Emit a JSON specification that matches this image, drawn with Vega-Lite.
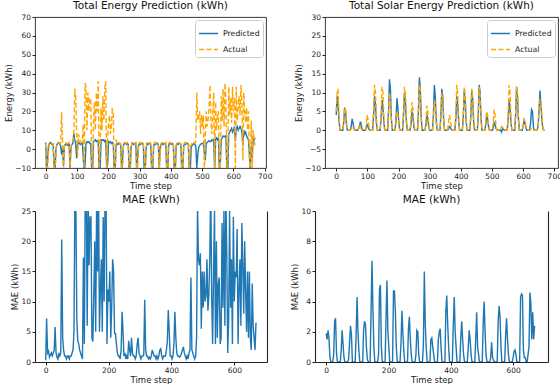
{
"$schema": "https://vega.github.io/schema/vega-lite/v6.json",
"background": "white",
"padding": {"left": 4, "top": 0, "right": 6, "bottom": 0},
"config": {
 "font": "DejaVu Sans",
 "view": {"stroke": "#222", "strokeWidth": 0.9},
 "axis": {"grid": false, "domain": false, "labelFlush": false, "labelFont": "DejaVu Sans", "labelFontSize": 7.5, "labelColor": "#222", "titleFont": "DejaVu Sans", "titleFontSize": 8.5, "titleFontWeight": "normal", "titleColor": "#222", "tickColor": "#222", "tickSize": 3, "labelPadding": 1.5, "titlePadding": 1, "domainColor": "#222", "domainWidth": 1.1},
 "title": {"font": "DejaVu Sans", "fontSize": 10.5, "fontWeight": "normal", "color": "#111", "offset": 2, "frame": "group"},
 "legend": {"orient": "top-right", "offset": 3, "padding": 3, "strokeColor": "#ccc", "fillColor": "white", "cornerRadius": 3, "labelFont": "DejaVu Sans", "labelFontSize": 7.8, "labelColor": "#222", "symbolType": "stroke", "symbolSize": 360, "symbolStrokeWidth": 1.4, "rowPadding": 1, "labelOffset": 4, "title": null}
},
"datasets": {"d": [
{"t":0,"p":3.5,"a":3,"sp":4,"sa":5,"m":0.3,"sm":1.9},
{"t":3,"p":-11,"a":-12,"sp":9,"sa":10,"m":7.2,"sm":1.5},
{"t":6,"p":-6,"a":-12,"sp":7,"sa":11,"m":1.5,"sm":2.1},
{"t":9,"p":1.5,"a":-1,"sp":2.5,"sa":4,"m":1.8,"sm":1.5},
{"t":12,"p":3,"a":3,"sp":0,"sa":0.3,"m":0.8,"sm":0.3},
{"t":15,"p":3.5,"a":3.5,"sp":0,"sa":0,"m":1.2,"sm":0},
{"t":18,"p":3,"a":3.5,"sp":0,"sa":0,"m":1.5,"sm":0},
{"t":21,"p":2.5,"a":3,"sp":0,"sa":0,"m":1,"sm":0},
{"t":24,"p":2,"a":3,"sp":2,"sa":2.5,"m":1.5,"sm":0.5},
{"t":27,"p":-8,"a":-10,"sp":6,"sa":6,"m":2,"sm":2.7},
{"t":30,"p":-11,"a":-12,"sp":5,"sa":5.5,"m":5.8,"sm":2.9},
{"t":33,"p":0,"a":-2,"sp":1.5,"sa":2,"m":1.5,"sm":0.6},
{"t":36,"p":2.5,"a":3,"sp":0,"sa":0,"m":0.8,"sm":0},
{"t":39,"p":3,"a":3.5,"sp":0,"sa":0,"m":0.5,"sm":0},
{"t":42,"p":3.5,"a":3.5,"sp":0,"sa":0,"m":1.5,"sm":0},
{"t":45,"p":3,"a":3,"sp":0,"sa":0,"m":1,"sm":0},
{"t":48,"p":1.5,"a":3,"sp":1,"sa":0.3,"m":1.5,"sm":0.7},
{"t":51,"p":-3,"a":19.5,"sp":3,"sa":1,"m":20.3,"sm":2.1},
{"t":54,"p":1,"a":4,"sp":2,"sa":0.8,"m":4,"sm":1.2},
{"t":57,"p":-9,"a":-11,"sp":0.5,"sa":0.2,"m":2,"sm":0.3},
{"t":60,"p":2,"a":1,"sp":0,"sa":0,"m":1,"sm":0},
{"t":63,"p":2.5,"a":3.5,"sp":0,"sa":0,"m":1,"sm":0},
{"t":66,"p":3,"a":3,"sp":0,"sa":0,"m":0.5,"sm":0},
{"t":69,"p":2,"a":3,"sp":0,"sa":0,"m":1,"sm":0},
{"t":72,"p":2,"a":3,"sp":0.5,"sa":0.3,"m":1,"sm":0.2},
{"t":75,"p":3,"a":3.5,"sp":1.3,"sa":1.5,"m":0.5,"sm":1.3},
{"t":78,"p":-10,"a":-11,"sp":2.3,"sa":0.8,"m":1,"sm":2.4},
{"t":81,"p":1,"a":2,"sp":1.2,"sa":0.3,"m":1,"sm":1.8},
{"t":84,"p":2.5,"a":3,"sp":0,"sa":0,"m":1.5,"sm":0},
{"t":87,"p":3,"a":4,"sp":0,"sa":0,"m":2,"sm":0},
{"t":90,"p":8.5,"a":6,"sp":0,"sa":0,"m":5,"sm":0},
{"t":93,"p":5,"a":32,"sp":0,"sa":0,"m":28,"sm":0},
{"t":96,"p":3,"a":28,"sp":0.5,"sa":1,"m":26,"sm":1.8},
{"t":99,"p":-5,"a":10,"sp":1.5,"sa":4,"m":7.2,"sm":4.3},
{"t":102,"p":2,"a":-4,"sp":1,"sa":3,"m":3.5,"sm":2},
{"t":105,"p":4,"a":8,"sp":0.3,"sa":1,"m":3,"sm":0.7},
{"t":108,"p":3,"a":5.5,"sp":0,"sa":0,"m":2,"sm":0},
{"t":111,"p":2.5,"a":4,"sp":0,"sa":0,"m":1.5,"sm":0},
{"t":114,"p":3,"a":3.5,"sp":0,"sa":0,"m":1,"sm":0},
{"t":117,"p":3.5,"a":3.5,"sp":0,"sa":0,"m":0.5,"sm":0},
{"t":120,"p":-4,"a":13,"sp":4,"sa":5,"m":17.3,"sm":2.1},
{"t":123,"p":-12,"a":-12,"sp":9,"sa":12,"m":3,"sm":2.7},
{"t":126,"p":-8,"a":35,"sp":7,"sa":10,"m":30,"sm":2.5},
{"t":129,"p":3,"a":33,"sp":2,"sa":3,"m":30,"sm":1},
{"t":132,"p":4,"a":10,"sp":0,"sa":0.2,"m":6,"sm":0.2},
{"t":135,"p":3.5,"a":30,"sp":0,"sa":0,"m":27,"sm":0},
{"t":138,"p":4,"a":20,"sp":0,"sa":0,"m":16,"sm":0},
{"t":141,"p":3,"a":27,"sp":0,"sa":0,"m":24,"sm":0},
{"t":144,"p":3,"a":27,"sp":3,"sa":4,"m":24,"sm":3.4},
{"t":147,"p":-10,"a":-6,"sp":8,"sa":11.5,"m":4,"sm":6.7},
{"t":150,"p":-12,"a":-12,"sp":6.5,"sa":10,"m":3.4,"sm":3.5},
{"t":153,"p":4,"a":15,"sp":2,"sa":3,"m":11,"sm":1},
{"t":156,"p":4.5,"a":25,"sp":0,"sa":0,"m":20,"sm":0},
{"t":159,"p":5,"a":10,"sp":0,"sa":0,"m":5,"sm":0},
{"t":162,"p":4,"a":30,"sp":0,"sa":0,"m":26,"sm":0},
{"t":165,"p":4.5,"a":20,"sp":0,"sa":0,"m":15,"sm":0},
{"t":168,"p":4,"a":36,"sp":5,"sa":5,"m":30,"sm":0.5},
{"t":171,"p":-12,"a":-12,"sp":13.5,"sa":10,"m":5,"sm":4.8},
{"t":174,"p":-12,"a":0,"sp":11,"sa":8,"m":12,"sm":5.1},
{"t":177,"p":5,"a":22,"sp":3,"sa":3,"m":17,"sm":1},
{"t":180,"p":5,"a":10,"sp":0,"sa":0,"m":5,"sm":0},
{"t":183,"p":4.5,"a":28,"sp":0,"sa":0,"m":24,"sm":0},
{"t":186,"p":5,"a":15,"sp":0,"sa":0,"m":10,"sm":0},
{"t":189,"p":4,"a":33,"sp":0,"sa":0,"m":28,"sm":0},
{"t":192,"p":5,"a":36,"sp":3,"sa":2,"m":28,"sm":2.9},
{"t":195,"p":-10,"a":-12,"sp":8.5,"sa":5,"m":3,"sm":5.4},
{"t":198,"p":-8,"a":5,"sp":6,"sa":4,"m":12,"sm":2},
{"t":201,"p":4,"a":14,"sp":2,"sa":1,"m":10,"sm":1},
{"t":204,"p":3.5,"a":18,"sp":0,"sa":0,"m":15,"sm":0},
{"t":207,"p":4,"a":8,"sp":0,"sa":0,"m":4,"sm":0},
{"t":210,"p":3,"a":12,"sp":0,"sa":0,"m":9,"sm":0},
{"t":213,"p":3.5,"a":21,"sp":0,"sa":0,"m":17,"sm":0},
{"t":216,"p":3,"a":20,"sp":4,"sa":4,"m":15,"sm":4.7},
{"t":219,"p":-12,"a":-12,"sp":10,"sa":11.5,"m":4.7,"sm":4.7},
{"t":222,"p":-12,"a":-12,"sp":8,"sa":10,"m":4.7,"sm":3.4},
{"t":225,"p":2,"a":5,"sp":2.5,"sa":3.5,"m":3,"sm":1},
{"t":228,"p":3,"a":3.5,"sp":0,"sa":0,"m":1.5,"sm":0},
{"t":231,"p":2.5,"a":3,"sp":0,"sa":0,"m":1,"sm":0},
{"t":234,"p":3,"a":3.5,"sp":0,"sa":0,"m":1,"sm":0},
{"t":237,"p":3,"a":3,"sp":0,"sa":0,"m":0.5,"sm":0},
{"t":240,"p":2,"a":3,"sp":1.5,"sa":2.5,"m":2,"sm":1.2},
{"t":243,"p":-12,"a":-12,"sp":5,"sa":7.5,"m":8.3,"sm":3.4},
{"t":246,"p":-5,"a":-10,"sp":4,"sa":6,"m":5,"sm":2},
{"t":249,"p":2.5,"a":3,"sp":1,"sa":2,"m":1,"sm":0.8},
{"t":252,"p":3,"a":3.5,"sp":0,"sa":0,"m":1.5,"sm":0},
{"t":255,"p":3,"a":3.5,"sp":0,"sa":0,"m":0.5,"sm":0},
{"t":258,"p":2.5,"a":3,"sp":0,"sa":0,"m":1,"sm":0},
{"t":261,"p":3,"a":3.5,"sp":0,"sa":0,"m":0.5,"sm":0},
{"t":264,"p":2.5,"a":3,"sp":5,"sa":4.5,"m":3.5,"sm":2.2},
{"t":267,"p":-12,"a":-12,"sp":14,"sa":12,"m":2,"sm":3},
{"t":270,"p":-12,"a":-12,"sp":11,"sa":11,"m":1,"sm":1.5},
{"t":273,"p":1,"a":0,"sp":3,"sa":3.5,"m":4,"sm":0.5},
{"t":276,"p":3,"a":3.5,"sp":0,"sa":0,"m":1.5,"sm":0},
{"t":279,"p":3,"a":3,"sp":0,"sa":0,"m":1,"sm":0},
{"t":282,"p":2.5,"a":3.5,"sp":0,"sa":0,"m":1,"sm":0},
{"t":285,"p":3,"a":3,"sp":0,"sa":0,"m":0.5,"sm":0},
{"t":288,"p":3,"a":3.5,"sp":1.5,"sa":2,"m":1,"sm":0.5},
{"t":291,"p":-12,"a":-12,"sp":4,"sa":6.5,"m":3,"sm":2.1},
{"t":294,"p":-3,"a":-11,"sp":3,"sa":5,"m":4,"sm":2},
{"t":297,"p":2,"a":3,"sp":1,"sa":1.5,"m":1.5,"sm":0.5},
{"t":300,"p":3,"a":3.5,"sp":0,"sa":0,"m":1,"sm":0},
{"t":303,"p":2.5,"a":3,"sp":0,"sa":0,"m":0.5,"sm":0},
{"t":306,"p":3,"a":3.5,"sp":0,"sa":0,"m":1,"sm":0},
{"t":309,"p":3,"a":3,"sp":0,"sa":0,"m":1,"sm":0},
{"t":312,"p":2.5,"a":3.5,"sp":4,"sa":3,"m":1.2,"sm":1.2},
{"t":315,"p":-12,"a":-4,"sp":12,"sa":8,"m":10.3,"sm":6},
{"t":318,"p":-12,"a":-12,"sp":9,"sa":7,"m":2,"sm":2.5},
{"t":321,"p":0,"a":1,"sp":3,"sa":2,"m":1,"sm":1},
{"t":324,"p":3,"a":3.5,"sp":0,"sa":0,"m":1,"sm":0},
{"t":327,"p":2.5,"a":3,"sp":0,"sa":0,"m":0.5,"sm":0},
{"t":330,"p":3,"a":3,"sp":0,"sa":0,"m":0.8,"sm":0},
{"t":333,"p":3,"a":3.5,"sp":0,"sa":0,"m":0.5,"sm":0},
{"t":336,"p":2,"a":3,"sp":4,"sa":3.5,"m":1,"sm":1.5},
{"t":339,"p":-12,"a":-12,"sp":11,"sa":10,"m":2,"sm":1.6},
{"t":342,"p":-12,"a":-12,"sp":9,"sa":9,"m":1.5,"sm":1},
{"t":345,"p":1.5,"a":2,"sp":2.5,"sa":3,"m":1,"sm":0.5},
{"t":348,"p":3,"a":3.5,"sp":0,"sa":0,"m":1,"sm":0},
{"t":351,"p":2.5,"a":3,"sp":0,"sa":0,"m":0.5,"sm":0},
{"t":354,"p":3,"a":3.5,"sp":0,"sa":0,"m":1,"sm":0},
{"t":357,"p":3,"a":3,"sp":0,"sa":0,"m":0.5,"sm":0},
{"t":360,"p":2.5,"a":3,"sp":0.3,"sa":1.5,"m":1,"sm":1.5},
{"t":363,"p":-10,"a":-12,"sp":1,"sa":4,"m":2,"sm":2},
{"t":366,"p":1,"a":-2,"sp":0.8,"sa":3,"m":2.2,"sm":2.2},
{"t":369,"p":2.5,"a":3,"sp":0.2,"sa":1,"m":1,"sm":0.8},
{"t":372,"p":3,"a":3.5,"sp":0,"sa":0,"m":0.5,"sm":0},
{"t":375,"p":2.5,"a":3,"sp":0,"sa":0,"m":1,"sm":0},
{"t":378,"p":3,"a":3.5,"sp":0,"sa":0,"m":1,"sm":0},
{"t":381,"p":3,"a":3,"sp":0,"sa":0,"m":1,"sm":0},
{"t":384,"p":2,"a":3.5,"sp":3,"sa":4,"m":2,"sm":3.4},
{"t":387,"p":-12,"a":-12,"sp":9,"sa":12,"m":3.4,"sm":4.4},
{"t":390,"p":-12,"a":-12,"sp":7,"sa":10,"m":8.6,"sm":2.5},
{"t":393,"p":2,"a":3,"sp":2.5,"sa":3,"m":5,"sm":1},
{"t":396,"p":3,"a":3.5,"sp":0,"sa":0,"m":1,"sm":0},
{"t":399,"p":3,"a":3.5,"sp":0,"sa":0,"m":1,"sm":0},
{"t":402,"p":2.5,"a":3,"sp":0,"sa":0,"m":0.5,"sm":0},
{"t":405,"p":3,"a":3.5,"sp":0,"sa":0,"m":1,"sm":0},
{"t":408,"p":2.5,"a":3,"sp":3.5,"sa":4,"m":3,"sm":2.5},
{"t":411,"p":-12,"a":-12,"sp":10.5,"sa":11.5,"m":8.3,"sm":4.3},
{"t":414,"p":-12,"a":-12,"sp":8,"sa":9.5,"m":4,"sm":2},
{"t":417,"p":1.5,"a":2,"sp":2.5,"sa":3,"m":1.5,"sm":1},
{"t":420,"p":3,"a":3.5,"sp":0,"sa":0,"m":1,"sm":0},
{"t":423,"p":2.5,"a":3,"sp":0,"sa":0,"m":1,"sm":0},
{"t":426,"p":3,"a":3.5,"sp":0,"sa":0,"m":0.8,"sm":0},
{"t":429,"p":3,"a":3,"sp":0,"sa":0,"m":1,"sm":0},
{"t":432,"p":2.5,"a":3,"sp":3.5,"sa":4,"m":1.5,"sm":1.6},
{"t":435,"p":-12,"a":-12,"sp":10.5,"sa":11,"m":2,"sm":2.7},
{"t":438,"p":-12,"a":-12,"sp":8.5,"sa":9,"m":2.5,"sm":1.5},
{"t":441,"p":1.5,"a":2,"sp":2.5,"sa":3,"m":1.5,"sm":0.5},
{"t":444,"p":3,"a":3.5,"sp":0,"sa":0,"m":1,"sm":0},
{"t":447,"p":2.5,"a":3,"sp":0,"sa":0,"m":0.5,"sm":0},
{"t":450,"p":3,"a":3.5,"sp":0,"sa":0,"m":1,"sm":0},
{"t":453,"p":3,"a":3,"sp":0,"sa":0,"m":0.5,"sm":0},
{"t":456,"p":2.5,"a":3,"sp":4,"sa":4,"m":1.5,"sm":1},
{"t":459,"p":-12,"a":-12,"sp":12,"sa":11.5,"m":2,"sm":2.1},
{"t":462,"p":-12,"a":2,"sp":10,"sa":9.5,"m":14,"sm":1.5},
{"t":465,"p":1,"a":2,"sp":3,"sa":3,"m":2,"sm":0.5},
{"t":468,"p":2,"a":3.5,"sp":0,"sa":0,"m":1.5,"sm":0},
{"t":471,"p":2.5,"a":3,"sp":0,"sa":0,"m":1,"sm":0},
{"t":474,"p":3,"a":3.5,"sp":0,"sa":0,"m":0.5,"sm":0},
{"t":477,"p":2.5,"a":3,"sp":0,"sa":0,"m":1,"sm":0},
{"t":480,"p":1,"a":5,"sp":1.5,"sa":2,"m":4,"sm":1.5},
{"t":483,"p":-10,"a":30,"sp":4,"sa":5,"m":26,"sm":3.3},
{"t":486,"p":-3,"a":15,"sp":3,"sa":4,"m":17,"sm":1},
{"t":489,"p":1,"a":17,"sp":1,"sa":1.5,"m":16,"sm":0.5},
{"t":492,"p":2,"a":20,"sp":0,"sa":0,"m":18,"sm":0},
{"t":495,"p":2.5,"a":8,"sp":0,"sa":0,"m":5.5,"sm":0},
{"t":498,"p":3,"a":18,"sp":0,"sa":0,"m":15,"sm":0},
{"t":501,"p":3,"a":12,"sp":0,"sa":0,"m":9,"sm":0},
{"t":504,"p":3,"a":18,"sp":0.5,"sa":2,"m":15,"sm":2.6},
{"t":507,"p":-2,"a":-12,"sp":2,"sa":5.5,"m":10,"sm":4},
{"t":510,"p":-6,"a":5,"sp":1.5,"sa":4,"m":11,"sm":2},
{"t":513,"p":3,"a":20,"sp":0.5,"sa":1,"m":17,"sm":0.5},
{"t":516,"p":3.5,"a":12,"sp":0,"sa":0,"m":8.5,"sm":0},
{"t":519,"p":4,"a":15,"sp":0,"sa":0,"m":11,"sm":0},
{"t":522,"p":4.5,"a":22,"sp":0,"sa":0,"m":17,"sm":0},
{"t":525,"p":4,"a":34,"sp":0,"sa":0,"m":30,"sm":0},
{"t":528,"p":4,"a":15,"sp":0,"sa":0.3,"m":11,"sm":0.3},
{"t":531,"p":5,"a":8,"sp":-0.5,"sa":1,"m":3,"sm":1.3},
{"t":534,"p":4.5,"a":20,"sp":0.5,"sa":0.8,"m":15,"sm":0.3},
{"t":537,"p":5,"a":30,"sp":0.2,"sa":0.2,"m":25,"sm":0.1},
{"t":540,"p":-12,"a":-10,"sp":0,"sa":0,"m":3,"sm":0},
{"t":543,"p":5,"a":25,"sp":0,"sa":0,"m":20,"sm":0},
{"t":546,"p":6,"a":10,"sp":0,"sa":0,"m":4,"sm":0},
{"t":549,"p":5,"a":18,"sp":0,"sa":0,"m":13,"sm":0},
{"t":552,"p":6,"a":20,"sp":3,"sa":4,"m":14,"sm":2.7},
{"t":555,"p":-12,"a":-12,"sp":8,"sa":12,"m":3,"sm":3.7},
{"t":558,"p":-8,"a":-12,"sp":6,"sa":10,"m":4,"sm":3},
{"t":561,"p":5,"a":28,"sp":2,"sa":3,"m":23,"sm":1},
{"t":564,"p":6,"a":15,"sp":0,"sa":0,"m":9,"sm":0},
{"t":567,"p":7,"a":32,"sp":0,"sa":0,"m":25,"sm":0},
{"t":570,"p":6.5,"a":12,"sp":0,"sa":0,"m":6,"sm":0},
{"t":573,"p":7,"a":35,"sp":0,"sa":0,"m":28,"sm":0},
{"t":576,"p":7,"a":25,"sp":4,"sa":4,"m":18,"sm":1.8},
{"t":579,"p":-12,"a":-12,"sp":11.5,"sa":11.5,"m":1.5,"sm":2.9},
{"t":582,"p":-12,"a":-5,"sp":9,"sa":9.5,"m":7,"sm":1.5},
{"t":585,"p":8,"a":33,"sp":3,"sa":3,"m":25,"sm":0.5},
{"t":588,"p":9,"a":18,"sp":0,"sa":0,"m":9,"sm":0},
{"t":591,"p":10,"a":27,"sp":0,"sa":0,"m":17,"sm":0},
{"t":594,"p":11,"a":14,"sp":0,"sa":0,"m":3,"sm":0},
{"t":597,"p":9,"a":33,"sp":0,"sa":0,"m":24,"sm":0},
{"t":600,"p":10,"a":20,"sp":1,"sa":1,"m":10,"sm":0.3},
{"t":603,"p":12,"a":27,"sp":2.5,"sa":3,"m":15,"sm":0.7},
{"t":606,"p":4,"a":-10,"sp":2,"sa":2.5,"m":14,"sm":0.8},
{"t":609,"p":11,"a":33,"sp":0.5,"sa":1,"m":22,"sm":0.5},
{"t":612,"p":12,"a":15,"sp":0,"sa":0,"m":3,"sm":0},
{"t":615,"p":10,"a":22,"sp":0,"sa":0,"m":12,"sm":0},
{"t":618,"p":11,"a":28,"sp":0,"sa":0,"m":17,"sm":0},
{"t":621,"p":12,"a":18,"sp":0,"sa":0,"m":6,"sm":0},
{"t":624,"p":11,"a":34,"sp":2,"sa":0.2,"m":23,"sm":4.3},
{"t":627,"p":9,"a":25,"sp":5.5,"sa":0.5,"m":16,"sm":4.5},
{"t":630,"p":2,"a":-6,"sp":5,"sa":0.4,"m":8,"sm":4.4},
{"t":633,"p":10,"a":30,"sp":1,"sa":0.1,"m":20,"sm":0.8},
{"t":636,"p":8,"a":20,"sp":0,"sa":0,"m":12,"sm":0.3},
{"t":639,"p":9,"a":14,"sp":0,"sa":0,"m":5,"sm":0.3},
{"t":642,"p":7,"a":22,"sp":0,"sa":0,"m":15,"sm":0},
{"t":645,"p":6,"a":10,"sp":0,"sa":0,"m":4,"sm":0},
{"t":648,"p":5,"a":20,"sp":1,"sa":1,"m":15,"sm":0.5},
{"t":651,"p":-3,"a":-5,"sp":5,"sa":5,"m":4,"sm":1},
{"t":654,"p":-12,"a":-12,"sp":10.5,"sa":8,"m":2,"sm":4.6},
{"t":657,"p":2,"a":15,"sp":7,"sa":7.5,"m":13,"sm":3.9},
{"t":660,"p":-5,"a":-10,"sp":3,"sa":4.5,"m":6,"sm":1.5},
{"t":663,"p":6,"a":10,"sp":0.5,"sa":1,"m":4,"sm":3.3},
{"t":666,"p":5,"a":5,"sp":0,"sa":0,"m":2,"sm":1.5},
{"t":669,"p":6,"a":2,"sp":0,"sa":0,"m":6.5,"sm":2.4}
]},
"vconcat": [
 {"hconcat": [
  {
   "title": "Total Energy Prediction (kWh)",
   "width": 231, "height": 151,
   "data": {"name": "d"},
   "transform": [{"fold": ["p", "a"], "as": ["k", "v"]}],
   "mark": {"type": "line", "strokeWidth": 1.4, "clip": true},
   "encoding": {
    "x": {"field": "t", "type": "quantitative", "scale": {"domain": [-34, 704], "nice": false, "zero": false}, "axis": {"values": [0,100,200,300,400,500,600,700], "title": "Time step"}},
    "y": {"field": "v", "type": "quantitative", "scale": {"domain": [-10, 70], "nice": false, "zero": false}, "axis": {"values": [-10,0,10,20,30,40,50,60,70], "title": "Energy (kWh)"}},
    "color": {"field": "k", "type": "nominal", "scale": {"domain": ["p", "a"], "range": ["#1f77b4", "#ffa500"]}, "legend": {"labelExpr": "datum.label == 'p' ? 'Predicted' : 'Actual'"}},
    "strokeDash": {"field": "k", "type": "nominal", "scale": {"domain": ["p", "a"], "range": [[1, 0], [5, 2.5]]}, "legend": {"labelExpr": "datum.label == 'p' ? 'Predicted' : 'Actual'"}}
   }
  },
  {
   "title": "Total Solar Energy Prediction (kWh)",
   "width": 233, "height": 151,
   "data": {"name": "d"},
   "transform": [{"fold": ["sp", "sa"], "as": ["k", "v"]}],
   "mark": {"type": "line", "strokeWidth": 1.4, "clip": true},
   "encoding": {
    "x": {"field": "t", "type": "quantitative", "scale": {"domain": [-36, 712], "nice": false, "zero": false}, "axis": {"values": [0,100,200,300,400,500,600,700], "title": "Time step"}},
    "y": {"field": "v", "type": "quantitative", "scale": {"domain": [-10, 30], "nice": false, "zero": false}, "axis": {"values": [-10,-5,0,5,10,15,20,25,30], "title": "Energy (kWh)"}},
    "color": {"field": "k", "type": "nominal", "scale": {"domain": ["sp", "sa"], "range": ["#1f77b4", "#ffa500"]}, "legend": {"labelExpr": "datum.label == 'sp' ? 'Predicted' : 'Actual'"}},
    "strokeDash": {"field": "k", "type": "nominal", "scale": {"domain": ["sp", "sa"], "range": [[1, 0], [5, 2.5]]}, "legend": {"labelExpr": "datum.label == 'sp' ? 'Predicted' : 'Actual'"}}
   }
  }
 ], "spacing": 21, "resolve": {"scale": {"color": "independent", "strokeDash": "independent"}, "legend": {"color": "independent", "strokeDash": "independent"}}},
 {"hconcat": [
  {
   "title": "MAE (kWh)",
   "width": 232, "height": 151,
   "view": {"stroke": null},
   "data": {"name": "d"},
   "layer": [
    {"mark": {"type": "line", "strokeWidth": 1.4, "color": "#1f77b4", "clip": true},
     "encoding": {
      "x": {"field": "t", "type": "quantitative", "scale": {"domain": [-34, 704], "nice": false, "zero": false}, "axis": {"values": [0,100,200,300,400,500,600,700], "title": "Time step", "domain": true}},
      "y": {"field": "m", "type": "quantitative", "scale": {"domain": [0, 25], "nice": false, "zero": false}, "axis": {"values": [0,5,10,15,20,25], "title": "MAE (kWh)", "domain": true}}
     }},
    {"mark": {"type": "line", "opacity": 0, "clip": true},
     "encoding": {
      "x": {"field": "t", "type": "quantitative"},
      "y": {"field": "m", "type": "quantitative", "axis": {"orient": "right", "labels": false, "ticks": false, "title": null, "domain": true}}
     }}
   ],
   "resolve": {"axis": {"y": "independent"}}
  },
  {
   "title": "MAE (kWh)",
   "width": 233, "height": 151,
   "view": {"stroke": null},
   "data": {"name": "d"},
   "layer": [
    {"mark": {"type": "line", "strokeWidth": 1.4, "color": "#1f77b4", "clip": true},
     "encoding": {
      "x": {"field": "t", "type": "quantitative", "scale": {"domain": [-36, 712], "nice": false, "zero": false}, "axis": {"values": [0,100,200,300,400,500,600,700], "title": "Time step", "domain": true}},
      "y": {"field": "sm", "type": "quantitative", "scale": {"domain": [0, 10], "nice": false, "zero": false}, "axis": {"values": [0,2,4,6,8,10], "title": "MAE (kWh)", "domain": true}}
     }},
    {"mark": {"type": "line", "opacity": 0, "clip": true},
     "encoding": {
      "x": {"field": "t", "type": "quantitative"},
      "y": {"field": "sm", "type": "quantitative", "axis": {"orient": "right", "labels": false, "ticks": false, "title": null, "domain": true}}
     }}
   ],
   "resolve": {"axis": {"y": "independent"}}
  }
 ], "spacing": 23}
],
"spacing": 4
}
